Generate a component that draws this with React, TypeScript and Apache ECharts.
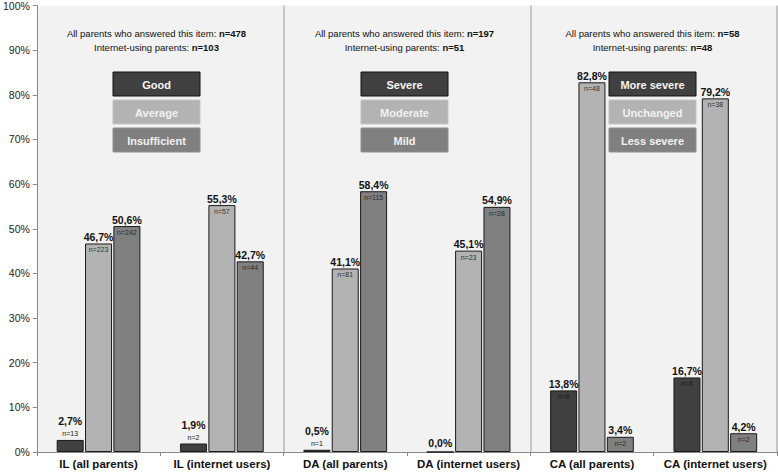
import React, { useEffect, useRef } from "react";
import * as echarts from "echarts";

const categories = [
  "IL (all parents)",
  "IL (internet users)",
  "DA (all parents)",
  "DA (internet users)",
  "CA (all parents)",
  "CA (internet users)",
];
const darkValues = [2.7, 1.9, 0.5, 0.0, 13.8, 16.7];
const darkN = [13, 2, 1, 0, 8, 8];
const lightValues = [46.7, 55.3, 41.1, 45.1, 82.8, 79.2];
const lightN = [223, 57, 81, 23, 48, 38];
const midValues = [50.6, 42.7, 58.4, 54.9, 3.4, 4.2];
const midN = [242, 44, 115, 28, 2, 2];
const yTicks = [0, 10, 20, 30, 40, 50, 60, 70, 80, 90, 100];

const panelHeaders = [
  { all: 478, internet: 103, legend: ["Good", "Average", "Insufficient"] },
  { all: 197, internet: 51, legend: ["Severe", "Moderate", "Mild"] },
  { all: 58, internet: 48, legend: ["More severe", "Unchanged", "Less severe"] },
];

const FONT = "'Liberation Sans', Arial, Helvetica, sans-serif";
const COLORS = ["#404040", "#b3b3b3", "#808080"];
const LEGEND_TEXT = ["#f5f5f5", "#f2f2f2", "#f2f2f2"];
const LEGEND_STROKE = ["#111111", "#c4c4c4", "#8e8e8e"];
const N_COLORS = ["#1a1a1a", "#333333", "#2a2a2a"];

const fmt = (v: number) => v.toFixed(1).replace(".", ",") + "%";

function labelFor(v: number, n: number, nColor: string) {
  const rich = {
    p: { fontSize: 10.5, fontWeight: "bold", color: "#111", fontFamily: FONT, lineHeight: 13 },
    n: { fontSize: 7, color: nColor, fontFamily: FONT, lineHeight: 13 },
  };
  if (n === 0) {
    return { show: true, position: "top", distance: 2, formatter: `{p|${fmt(v)}}`, rich };
  }
  if (v < 3) {
    return {
      show: true,
      position: "top",
      distance: 1,
      formatter: `{p|${fmt(v)}}\n{n|n=${n}}`,
      rich: { ...rich, n: { ...rich.n, lineHeight: 11 } },
    };
  }
  return {
    show: true,
    position: "insideTop",
    distance: 0,
    offset: [0, -13],
    formatter: `{p|${fmt(v)}}\n{n|n=${n}}`,
    rich,
  };
}

function makeSeries(name: string, vals: number[], ns: number[], idx: number) {
  return {
    type: "bar",
    name,
    barWidth: 27,
    barGap: "5%",
    itemStyle: { color: COLORS[idx], borderColor: "#1a1a1a", borderWidth: 1 },
    data: vals.map((v, i) => ({ value: v, label: labelFor(v, ns[i], N_COLORS[idx]) })),
  };
}

export default function App() {
  const ref = useRef<HTMLDivElement>(null);
  useEffect(() => {
    if (!ref.current) return;
    const chart = echarts.init(ref.current, null, { renderer: "svg" });
    const centers = [156.5, 404.5, 652.5];
    const graphics: any[] = [];
    panelHeaders.forEach((p, pi) => {
      const cx = centers[pi];
      const headerRich = {
        r: { fontSize: 9.5, fontFamily: FONT, fill: "#111", color: "#111" },
        b: { fontSize: 9.5, fontFamily: FONT, fontWeight: "bold", fill: "#111", color: "#111" },
      };
      graphics.push({
        type: "text",
        x: cx,
        y: 33,
        style: {
          text: `{r|All parents who answered this item: }{b|n=${p.all}}`,
          align: "center",
          textAlign: "center",
          verticalAlign: "middle",
          textVerticalAlign: "middle",
          rich: headerRich,
        },
      });
      graphics.push({
        type: "text",
        x: cx,
        y: 47,
        style: {
          text: `{r|Internet-using parents: }{b|n=${p.internet}}`,
          align: "center",
          textAlign: "center",
          verticalAlign: "middle",
          textVerticalAlign: "middle",
          rich: headerRich,
        },
      });
      p.legend.forEach((name, li) => {
        const y = 72 + li * 28;
        graphics.push({
          type: "rect",
          shape: { x: cx - 43.5, y, width: 87, height: 24 },
          style: { fill: COLORS[li], stroke: LEGEND_STROKE[li], lineWidth: 1 },
        });
        graphics.push({
          type: "text",
          x: cx,
          y: y + 12.5,
          style: {
            text: name,
            align: "center",
            textAlign: "center",
            verticalAlign: "middle",
            textVerticalAlign: "middle",
            fontSize: 11,
            fontWeight: "bold",
            fontFamily: FONT,
            fill: LEGEND_TEXT[li],
          },
        });
      });
    });

    chart.setOption({
      animation: false,
      backgroundColor: "#ffffff",
      textStyle: { fontFamily: FONT },
      grid: {
        left: 33,
        right: 1,
        top: 5,
        bottom: 21,
        show: true,
        backgroundColor: "#f2f2f2",
        borderWidth: 0,
      },
      xAxis: {
        type: "category",
        data: categories,
        axisLine: { show: true, lineStyle: { color: "#888888", width: 1 } },
        axisTick: { show: true, length: 4, lineStyle: { color: "#888888" } },
        axisLabel: {
          fontSize: 11.5,
          fontWeight: "bold",
          color: "#111",
          fontFamily: FONT,
          margin: 6,
          interval: 0,
        },
        splitLine: {
          show: true,
          interval: (i: number) => i === 2 || i === 4,
          lineStyle: { color: "#c6c6c6", width: 2 },
        },
      },
      yAxis: {
        type: "value",
        min: yTicks[0],
        max: yTicks[yTicks.length - 1],
        interval: 10,
        axisLine: { show: true, lineStyle: { color: "#888888", width: 1 } },
        axisTick: { show: true, length: 4, lineStyle: { color: "#888888" } },
        axisLabel: {
          fontSize: 10.5,
          color: "#222",
          fontFamily: FONT,
          margin: 7,
          formatter: "{value}%",
        },
        splitLine: { show: false },
      },
      series: [
        makeSeries("Good / Severe / More severe", darkValues, darkN, 0),
        makeSeries("Average / Moderate / Unchanged", lightValues, lightN, 1),
        makeSeries("Insufficient / Mild / Less severe", midValues, midN, 2),
      ],
      graphic: graphics,
    });
    return () => chart.dispose();
  }, []);
  return (
    <div
      ref={ref}
      style={{ position: "fixed", left: 0, top: 0, width: 778, height: 473, background: "#fff" }}
    />
  );
}
